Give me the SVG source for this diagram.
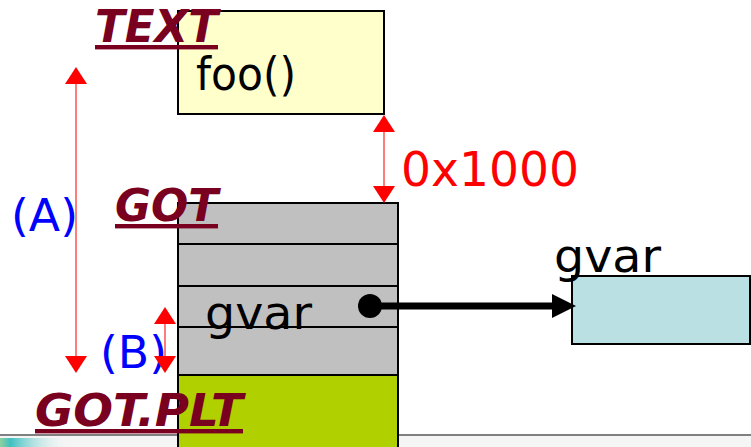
<svg xmlns="http://www.w3.org/2000/svg" width="751" height="447" viewBox="0 0 751 447">
<style>
.box{stroke:#000;stroke-width:2}
.lbl{font-family:"DejaVu Sans",sans-serif;font-size:44px;font-weight:bold;font-style:italic;fill:#7a0020;text-decoration:underline}
.big{font-family:"DejaVu Sans",sans-serif;font-size:47px;fill:#000}
.blue{font-family:"DejaVu Sans",sans-serif;font-size:45px;fill:#0000ff}
.red{font-family:"DejaVu Sans",sans-serif;font-size:48px;fill:#ff0000}
.rline{stroke:#ff5050;stroke-width:1.5}
.rhead{fill:#ff0000}
</style>
<defs>
<linearGradient id="teal" x1="0" y1="0" x2="1" y2="0">
<stop offset="0" stop-color="#8fd0a0"/>
<stop offset="0.15" stop-color="#40c0c0"/>
<stop offset="1" stop-color="#f5f5f5" stop-opacity="0"/>
</linearGradient>
</defs>
<rect x="0" y="0" width="751" height="447" fill="#fff"/>
<g id="footer">
<rect x="0" y="436" width="751" height="11" fill="#f5f5f5"/>
<line x1="0" y1="435" x2="751" y2="435" stroke="#808080" stroke-width="2"/>
<rect x="0" y="438" width="70" height="9" fill="url(#teal)"/>
</g>
<g id="text-seg">
<rect class="box" x="178" y="11" width="206" height="103" fill="#ffffcc"/>
<text class="big" x="196" y="90" textLength="100" lengthAdjust="spacingAndGlyphs">foo()</text>
</g>
<g id="got">
<rect class="box" x="178" y="203" width="220" height="172" fill="#c0c0c0"/>
<line x1="178" y1="244" x2="398" y2="244" stroke="#000" stroke-width="2"/>
<line x1="178" y1="286" x2="398" y2="286" stroke="#000" stroke-width="2"/>
<line x1="178" y1="327" x2="398" y2="327" stroke="#000" stroke-width="2"/>
<text class="big" x="205" y="329" textLength="107" lengthAdjust="spacingAndGlyphs">gvar</text>
</g>
<g id="gotplt">
<rect class="box" x="178" y="375" width="220" height="80" fill="#b0d000"/>
</g>
<g id="gvar-box">
<rect class="box" x="572" y="276" width="178" height="68" fill="#bbe0e3"/>
<text class="big" x="554" y="272" textLength="107" lengthAdjust="spacingAndGlyphs">gvar</text>
</g>
<g id="labels">
<text class="lbl" x="95" y="42" textLength="123" lengthAdjust="spacingAndGlyphs">TEXT</text>
<text class="lbl" x="115" y="221" textLength="103" lengthAdjust="spacingAndGlyphs">GOT</text>
<text class="lbl" x="35" y="426" textLength="208" lengthAdjust="spacingAndGlyphs">GOT.PLT</text>
<text class="blue" x="11" y="231" textLength="67" lengthAdjust="spacingAndGlyphs">(A)</text>
<text class="blue" x="100" y="368" textLength="67" lengthAdjust="spacingAndGlyphs">(B)</text>
<text class="red" x="401" y="186" textLength="178" lengthAdjust="spacingAndGlyphs">0x1000</text>
</g>
<g id="connectors">
<line class="rline" x1="76" y1="80" x2="76" y2="360"/>
<polygon class="rhead" points="76,67 65,84 87,84"/>
<polygon class="rhead" points="76,373 65,356 87,356"/>
<line class="rline" x1="384" y1="128" x2="384" y2="190"/>
<polygon class="rhead" points="384,115 373,132 395,132"/>
<polygon class="rhead" points="384,203 373,186 395,186"/>
<line class="rline" x1="165" y1="320" x2="165" y2="360"/>
<polygon class="rhead" points="165,307 154,324 176,324"/>
<polygon class="rhead" points="165,373 154,356 176,356"/>
<circle cx="370" cy="306" r="12" fill="#000"/>
<line x1="370" y1="306" x2="556" y2="306" stroke="#000" stroke-width="7"/>
<polygon points="576,306 552,294 552,318" fill="#000"/>
</g>
</svg>
